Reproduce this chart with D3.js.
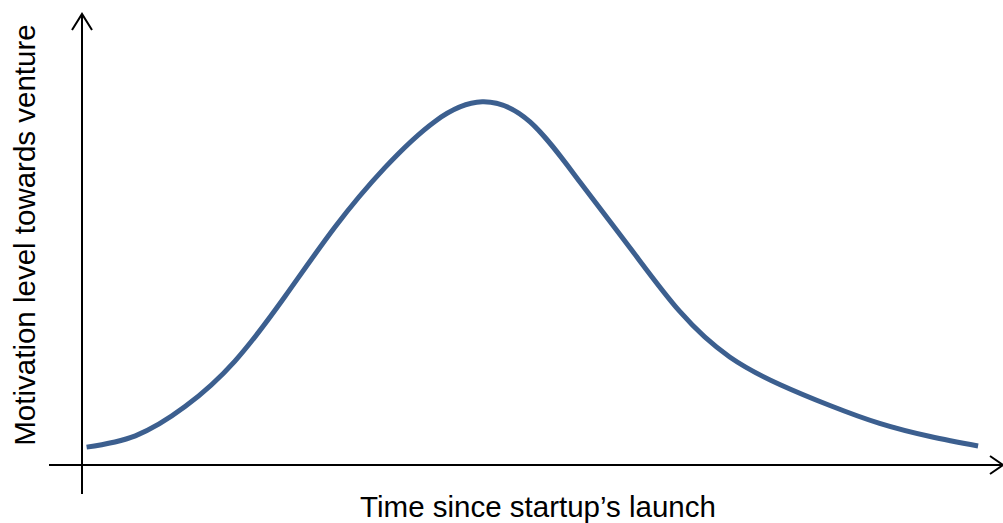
<!DOCTYPE html>
<html><head><meta charset="utf-8">
<script src="https://cdn.jsdelivr.net/npm/d3@7"></script>
<style>html,body{margin:0;padding:0;background:#fff;}</style>
</head><body>
<script>
const xValues = [0.5, 5.8, 11.2, 16.6, 22.1, 27.5, 32.9, 38.4, 43.5, 48.7, 54.1, 59.6, 65.0, 70.4, 75.9, 81.3, 86.7, 92.2, 97.4];
const yValues = [4.9, 8.0, 16.0, 28.4, 46.3, 65.2, 81.4, 94.2, 99.5, 94.0, 77.6, 59.4, 42.0, 29.6, 22.0, 16.3, 11.4, 7.8, 5.2];
const xTitle = "Time since startup\u2019s launch";
const yTitle = "Motivation level towards venture";

const W = 1003, H = 523;
const svg = d3.select("body").append("svg").attr("width", W).attr("height", H);
const x = d3.scaleLinear().domain([0, 100]).range([82, 1002]);
const y = d3.scaleLinear().domain([0, 100]).range([465, 100]);

// axes
svg.append("line").attr("x1", 49).attr("x2", 1002).attr("y1", 465).attr("y2", 465).attr("stroke", "#000").attr("stroke-width", 2);
svg.append("line").attr("x1", 82).attr("x2", 82).attr("y1", 14).attr("y2", 494).attr("stroke", "#000").attr("stroke-width", 2);
svg.append("path").attr("d", "M72,30 L82,14 L92,30").attr("fill", "none").attr("stroke", "#000").attr("stroke-width", 2);
svg.append("path").attr("d", "M990,456 L1003,465 L990,474").attr("fill", "none").attr("stroke", "#000").attr("stroke-width", 2);

const data = xValues.map((v, i) => [v, yValues[i]]);
svg.append("path").datum(data)
  .attr("d", d3.line().x(d => x(d[0])).y(d => y(d[1])).curve(d3.curveNatural))
  .attr("fill", "none").attr("stroke", "#3c5f8f").attr("stroke-width", 5).attr("stroke-linecap", "butt");

svg.append("text").attr("x", 538).attr("y", 517).attr("text-anchor", "middle")
  .attr("font-family", "Liberation Sans, Arial, sans-serif").attr("font-size", 29.5).attr("fill", "#000").text(xTitle);
svg.append("text").attr("transform", "translate(35,235) rotate(-90)").attr("text-anchor", "middle")
  .attr("font-family", "Liberation Sans, Arial, sans-serif").attr("font-size", 29.5).attr("fill", "#000").text(yTitle);
</script>
</body></html>
